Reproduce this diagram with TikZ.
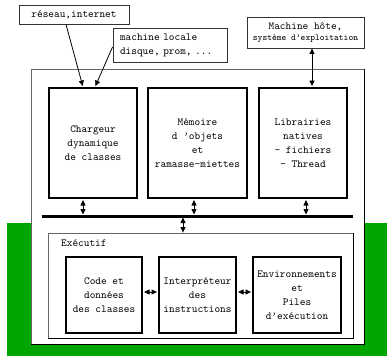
\documentclass[tikz,border=0pt]{standalone}
\usepackage{fontspec}
\usetikzlibrary{arrows.meta,calc}
\definecolor{grn}{RGB}{0,166,0}
\begin{document}
\begin{tikzpicture}[x=1pt,y=-1pt,
  txt/.style={font=\fontsize{10.8}{14}\selectfont\ttfamily, align=center},
  thickbox/.style={draw, line width=2pt, fill=white, inner sep=0pt, txt},
  srcbox/.style={draw=black!80, line width=0.9pt, fill=white, inner sep=0pt, txt},
  framebox/.style={draw=black!60, line width=0.9pt, fill=white, inner sep=0pt},
  arr/.style={-{Triangle[width=5pt,length=5.5pt]}, line width=0.8pt},
  darr/.style={{Triangle[width=5pt,length=5.5pt]}-{Triangle[width=5pt,length=5.5pt]}, line width=0.8pt}]
\useasboundingbox (0,0) rectangle (387,356);
\fill[grn] (7,223) rectangle (387,356);

% outer frame
\node[framebox, minimum width=333, minimum height=275] (outer) at (197.5,206.5) {};
\draw[black, line width=1.3pt] (outer.north east) -- (outer.south east) -- (outer.south west);

% source boxes
\node[srcbox, minimum width=110, minimum height=19] (res) at (74,14.5) {réseau,internet};
\node[srcbox, align=left, text width=100, inner xsep=7, minimum height=34] (loc) at (170,45) {machine locale\\disque, prom, ...};
\node[srcbox, minimum width=117, minimum height=31, font=\ttfamily] (host) at (305.5,32.5)
  {\fontsize{10.8}{13}\selectfont Machine hôte,\\[-1pt]\fontsize{9.1}{11}\selectfont système d’exploitation};

% upper modules
\node[thickbox, minimum width=88, minimum height=110] (charg) at (93,143) {Chargeur\\dynamique\\de classes};
\node[thickbox, minimum width=99, minimum height=110] (mem) at (197.5,143) {Mémoire\\d ’objets\\et\\ramasse-miettes};
\node[thickbox, minimum width=88, minimum height=110] (lib) at (303,143) {Librairies\\natives\\- fichiers\\- Thread};

% bus
\coordinate (busL) at (42,216);
\coordinate (busR) at (353,216);
\draw[line width=3pt] (busL) -- (busR);

% executif
\node[framebox, minimum width=305, minimum height=105] (exec) at (200.5,285.5) {};
\draw[black, line width=1.2pt] (exec.north east) -- (exec.south east) -- (exec.south west);
\node[txt, anchor=west, inner sep=0pt] (exlbl) at (61,243) {Exécutif};
\node[thickbox, minimum width=76, minimum height=76] (code) at (104,295) {Code et\\données\\des classes};
\node[thickbox, minimum width=77, minimum height=76] (interp) at (197.5,295) {Interpréteur\\des\\instructions};
\node[thickbox, minimum width=88, minimum height=76] (env) at (297,295) {Environnements\\et\\Piles\\d’exécution};

% arrows from sources
\coordinate (c1) at ($(charg.south)+(-10,0)$);
\draw[arr, shorten >=1pt] ($(res.south)+(-8,0)$) -- (c1 |- charg.north);
\draw[arr, shorten >=1pt] ($(loc.west)+(0,2)$) -- ($(charg.north)+(2,0)$);
\coordinate (h1) at ($(host.south)+(6.5,0)$);
\draw[darr, shorten >=1pt] (h1) -- (h1 |- lib.north);

% arrows to bus
\draw[darr, shorten <=1pt, shorten >=1.5pt] (c1) -- (c1 |- busL);
\coordinate (m1) at ($(mem.south)+(-3.5,0)$);
\draw[darr, shorten <=1pt, shorten >=1.5pt] (m1) -- (m1 |- busL);
\coordinate (l1) at ($(lib.south)+(3,0)$);
\draw[darr, shorten <=1pt, shorten >=1.5pt] (l1) -- (l1 |- busL);
\coordinate (e1) at ($(exec.north)+(-17.5,0)$);
\draw[darr, shorten <=1.5pt] (e1 |- busL) -- (e1);

% arrows between executive modules
\draw[darr, shorten <=1pt, shorten >=1pt] ($(code.east)+(0,-3)$) -- ($(interp.west)+(0,-3)$);
\draw[darr, shorten <=1pt, shorten >=1pt] ($(interp.east)+(0,-3)$) -- ($(env.west)+(0,-3)$);
\end{tikzpicture}
\end{document}
